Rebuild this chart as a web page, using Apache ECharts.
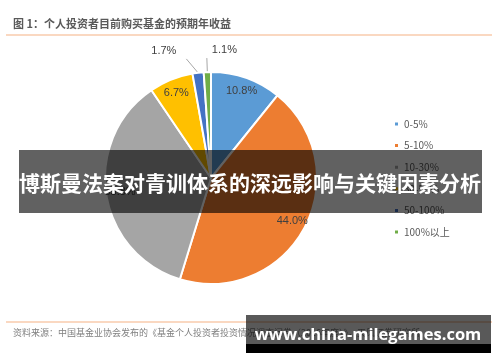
<!DOCTYPE html>
<html><head><meta charset="utf-8">
<script src="https://cdn.jsdelivr.net/npm/echarts@6/dist/echarts.min.js"></script>
<style>html,body{margin:0;padding:0;background:#fff}#c{width:500px;height:362px}</style>
</head><body><div id="c"></div>
<script>
const categories = ['0-5%', '5-10%', '10-30%', '30-50%', '50-100%', '100%以上'];
const values = [10.8, 44.0, 35.8, 6.7, 1.7, 1.1];
const colors = ['#5B9BD5', '#ED7D31', '#A5A5A5', '#FFC000', '#4472C4', '#70AD47'];
const insideLabelIdx = [0, 1, 2, 3];
const titleText = '图 1：个人投资者目前购买基金的预期年收益';
const sourceText = '资料来源：中国基金业协会发布的《基金个人投资者投资情况调查问卷（2016年度）》，天风证券研究所';
const bannerText = '博斯曼法案对青训体系的深远影响与关键因素分析';
const watermarkText = 'www.china-milegames.com';

const latin = '"Liberation Sans","Noto Sans CJK SC",sans-serif';
const cjk = '"Noto Sans CJK SC",sans-serif';
const fmt = p => p.value.toFixed(1) + '%';

const chart = echarts.init(document.getElementById('c'));
const mainData = categories.map((n, i) => ({
  name: n, value: values[i], itemStyle: { color: colors[i] },
  label: { show: insideLabelIdx.indexOf(i) < 0 },
  labelLine: { show: insideLabelIdx.indexOf(i) < 0 }
}));
const overlayData = categories.map((n, i) => ({
  name: n, value: values[i],
  label: { show: insideLabelIdx.indexOf(i) >= 0 }
}));

chart.setOption({
  animation: false,
  legend: {
    orient: 'vertical', left: 388, top: 114,
    icon: 'rect', itemWidth: 5, itemHeight: 5, itemGap: 11.6,
    data: categories,
    textStyle: { color: '#595959', fontSize: 10, fontFamily: cjk }
  },
  series: [
    {
      type: 'pie', center: [211, 178], radius: [0, 106],
      startAngle: 90, clockwise: true, avoidLabelOverlap: false,
      itemStyle: { borderColor: '#fff', borderWidth: 2 },
      label: { position: 'outside', formatter: fmt, color: '#404040', fontSize: 11, fontFamily: latin },
      labelLine: { length: 14, length2: 10, lineStyle: { color: '#A6A6A6', width: 1 } },
      labelLayout: function (p) {
        const pts = p.labelLinePoints;
        if (!pts) return {};
        if (p.dataIndex === 5) {
          const e = pts[1];
          return { x: e[0] + 5, y: e[1] - 8, align: 'left', verticalAlign: 'middle', labelLinePoints: [pts[0], e, e] };
        }
        const e = pts[2];
        return { x: e[0] - 10, y: e[1] - 8, align: 'right', verticalAlign: 'middle', labelLinePoints: [pts[0], e, e] };
      },
      emphasis: { disabled: true },
      data: mainData
    },
    {
      type: 'pie', center: [211, 178], radius: [0, 178],
      startAngle: 90, clockwise: true, silent: true, avoidLabelOverlap: false,
      itemStyle: { color: 'rgba(0,0,0,0)', borderWidth: 0 },
      label: { position: 'inside', formatter: fmt, color: '#404040', fontSize: 11, fontFamily: latin },
      labelLine: { show: false },
      emphasis: { disabled: true },
      data: overlayData
    }
  ],
  graphic: [
    { type: 'text', left: 13, top: 18, z: 10, style: { text: titleText, fill: '#595959', font: 'bold 11px ' + cjk } },
    { type: 'line', z: 10, shape: { x1: 6, y1: 35, x2: 492, y2: 35 }, style: { stroke: '#F8CBAD', lineWidth: 1.5 } },
    { type: 'line', z: 10, shape: { x1: 6, y1: 322, x2: 492, y2: 322 }, style: { stroke: '#F8CBAD', lineWidth: 1.5 } },
    { type: 'text', left: 13, top: 328, z: 10, style: { text: sourceText, fill: '#7F7F7F', font: '9px ' + cjk } },
    { type: 'rect', z: 100, shape: { x: 19, y: 150, width: 463, height: 63 }, style: { fill: 'rgba(0,0,0,0.62)' } },
    { type: 'text', z: 101, x: 250, y: 183, style: { text: bannerText, fill: '#fff', font: 'bold 21px ' + cjk, align: 'center', verticalAlign: 'middle' } },
    { type: 'rect', z: 100, shape: { x: 246, y: 315, width: 245, height: 29 }, style: { fill: 'rgba(0,0,0,0.65)' } },
    { type: 'rect', z: 100, shape: { x: 246, y: 344, width: 245, height: 9 }, style: { fill: '#000' } },
    { type: 'text', z: 101, x: 368, y: 335, style: { text: watermarkText, fill: '#fff', font: 'bold 16.5px "Open Sans","DejaVu Sans",sans-serif', align: 'center', verticalAlign: 'middle' } }
  ]
});
</script></body></html>
